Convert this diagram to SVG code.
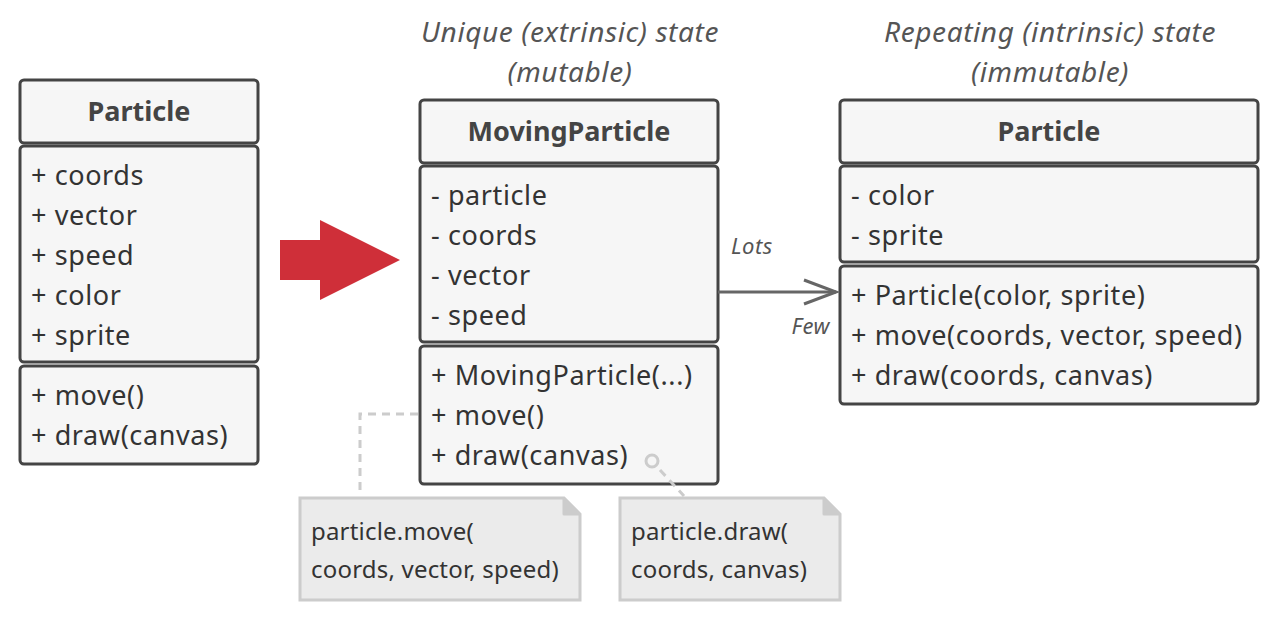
<svg xmlns="http://www.w3.org/2000/svg" width="1280" height="620" viewBox="0 0 1280 620">
<defs>
<style>
.sec{fill:#f6f6f6;stroke:#444;stroke-width:3}
.t{font-family:"Noto Sans","Open Sans",sans-serif;font-size:27px;letter-spacing:0.6px;fill:#333}
.h{font-family:"Noto Sans","Open Sans",sans-serif;font-size:27px;font-weight:bold;fill:#444;text-anchor:middle}
.cap{font-family:"Noto Sans","Open Sans",sans-serif;font-size:28px;letter-spacing:0.6px;font-style:italic;fill:#555;text-anchor:middle}
.lbl{font-family:"Noto Sans","Open Sans",sans-serif;font-size:22px;letter-spacing:0.5px;font-style:italic;fill:#555}
.note{fill:#ebebeb;stroke:#ccc;stroke-width:3}
.nt{font-family:"Noto Sans","Open Sans",sans-serif;font-size:24px;letter-spacing:0.2px;fill:#333}
.dash{fill:none;stroke:#ccc;stroke-width:3;stroke-dasharray:8 6}
</style>
</defs>
<g id="particle-left">
<rect class="sec" x="20" y="80" width="238" height="63" rx="4"/>
<rect class="sec" x="20" y="146" width="238" height="216" rx="4"/>
<rect class="sec" x="20" y="366" width="238" height="98" rx="4"/>
<text class="h" x="139" y="121">Particle</text>
<text class="t" x="31" y="185">+ coords</text>
<text class="t" x="31" y="225">+ vector</text>
<text class="t" x="31" y="265">+ speed</text>
<text class="t" x="31" y="305">+ color</text>
<text class="t" x="31" y="345">+ sprite</text>
<text class="t" x="31" y="405">+ move()</text>
<text class="t" x="31" y="445">+ draw(canvas)</text>
</g>
<g id="big-arrow">
<polygon points="280,240 320,240 320,220 400,260 320,300 320,280 280,280" fill="#cf2f39"/>
</g>
<g id="caption-unique">
<text class="cap" x="570" y="42">Unique (extrinsic) state</text>
<text class="cap" x="570" y="82">(mutable)</text>
</g>
<g id="caption-repeating">
<text class="cap" x="1050" y="42">Repeating (intrinsic) state</text>
<text class="cap" x="1050" y="82">(immutable)</text>
</g>
<g id="moving-particle">
<rect class="sec" x="420" y="100" width="298" height="63" rx="4"/>
<rect class="sec" x="420" y="166" width="298" height="176" rx="4"/>
<rect class="sec" x="420" y="346" width="298" height="138" rx="4"/>
<text class="h" x="569" y="141">MovingParticle</text>
<text class="t" x="431" y="205">- particle</text>
<text class="t" x="431" y="245">- coords</text>
<text class="t" x="431" y="285">- vector</text>
<text class="t" x="431" y="325">- speed</text>
<text class="t" x="431" y="385">+ MovingParticle(...)</text>
<text class="t" x="431" y="425">+ move()</text>
<text class="t" x="431" y="465">+ draw(canvas)</text>
</g>
<g id="particle-right">
<rect class="sec" x="840" y="100" width="418" height="63" rx="4"/>
<rect class="sec" x="840" y="166" width="418" height="96" rx="4"/>
<rect class="sec" x="840" y="266" width="418" height="138" rx="4"/>
<text class="h" x="1049" y="141">Particle</text>
<text class="t" x="851" y="205">- color</text>
<text class="t" x="851" y="245">- sprite</text>
<text class="t" x="851" y="305">+ Particle(color, sprite)</text>
<text class="t" x="851" y="345">+ move(coords, vector, speed)</text>
<text class="t" x="851" y="385">+ draw(coords, canvas)</text>
</g>
<g id="note-move">
<path class="note" d="M300,498 L564,498 L580,514 L580,600 L300,600 Z"/>
<path d="M564,498 L564,514 L580,514" fill="#ccc" stroke="#ccc" stroke-width="3" stroke-linejoin="round"/>
<text class="nt" x="311" y="540">particle.move(</text>
<text class="nt" x="311" y="578">coords, vector, speed)</text>
</g>
<g id="note-draw">
<path class="note" d="M620,498 L824,498 L840,514 L840,600 L620,600 Z"/>
<path d="M824,498 L824,514 L840,514" fill="#ccc" stroke="#ccc" stroke-width="3" stroke-linejoin="round"/>
<text class="nt" x="631" y="540">particle.draw(</text>
<text class="nt" x="631" y="578">coords, canvas)</text>
</g>
<g id="connectors">
<line x1="718" y1="292" x2="836" y2="292" stroke="#666" stroke-width="3"/>
<polyline points="804,280 836,292 804,304" fill="none" stroke="#666" stroke-width="3"/>
<text class="lbl" x="731" y="254">Lots</text>
<text class="lbl" x="830" y="334" text-anchor="end">Few</text>
<polyline class="dash" points="360,490 360,414 420,414"/>
<circle cx="652" cy="461" r="6" fill="none" stroke="#ccc" stroke-width="3"/>
<line class="dash" x1="660" y1="470" x2="684" y2="496"/>
</g>
</svg>
